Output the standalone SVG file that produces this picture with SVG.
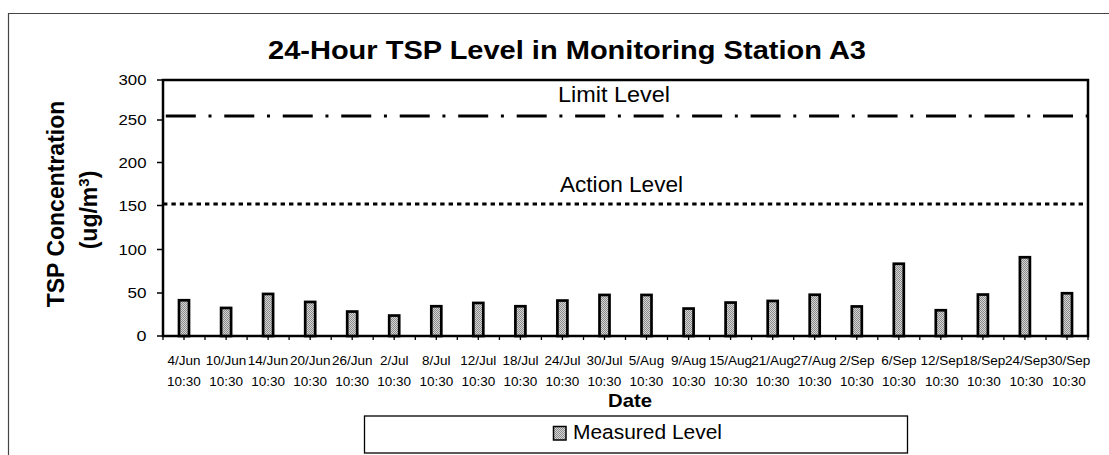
<svg xmlns="http://www.w3.org/2000/svg" width="1109" height="455" viewBox="0 0 1109 455">
<defs>
<pattern id="dither" width="2" height="2" patternUnits="userSpaceOnUse">
<rect width="2" height="2" fill="#d6d6d6"/>
<rect x="0" y="0" width="1" height="1" fill="#8a8a8a"/>
<rect x="1" y="1" width="1" height="1" fill="#8a8a8a"/>
</pattern>
</defs>
<style>
text{font-family:"Liberation Sans",Arial,sans-serif;fill:#000}
.bar{fill:url(#dither);stroke:#000;stroke-width:2.7}
.ylab{font-size:15px;text-anchor:end}
.xlab{font-size:13.5px;text-anchor:middle}
.tick{stroke:#000;stroke-width:1.3}
.lvl{font-size:22px;text-anchor:middle}
</style>
<rect width="1109" height="455" fill="#fff"/>
<g id="chart-border">
<path d="M8.5 455 V13.5 H1109" fill="none" stroke="#444" stroke-width="1.2"/>
</g>
<g id="title">
<text x="268" y="59" font-size="26" font-weight="bold" textLength="598" lengthAdjust="spacingAndGlyphs">24-Hour TSP Level in Monitoring Station A3</text>
</g>
<g id="y-axis-title">
<text transform="translate(63.5,204) rotate(-90)" font-size="23" font-weight="bold" text-anchor="middle">TSP Concentration</text>
<text transform="translate(97,210) rotate(-90)" font-size="23" font-weight="bold" text-anchor="middle">(ug/m<tspan dy="-8" font-size="15">3</tspan><tspan dy="8">)</tspan></text>
</g>
<g id="y-axis">
<text class="ylab" x="146.5" y="85" textLength="28" lengthAdjust="spacingAndGlyphs">300</text>
<text class="ylab" x="146.5" y="125" textLength="28" lengthAdjust="spacingAndGlyphs">250</text>
<text class="ylab" x="146.5" y="167.5" textLength="28" lengthAdjust="spacingAndGlyphs">200</text>
<text class="ylab" x="146.5" y="210.5" textLength="28" lengthAdjust="spacingAndGlyphs">150</text>
<text class="ylab" x="146.5" y="254.5" textLength="28" lengthAdjust="spacingAndGlyphs">100</text>
<text class="ylab" x="146.5" y="298" textLength="19" lengthAdjust="spacingAndGlyphs">50</text>
<text class="ylab" x="146.5" y="341" textLength="10" lengthAdjust="spacingAndGlyphs">0</text>
<path class="tick" d="M157 80H163M157 120H163M157 162.5H163M157 205.5H163M157 249.5H163M157 293H163M157 336H163"/>
</g>
<g id="plot-area">
<rect x="163" y="80" width="925" height="256" fill="none" stroke="#000" stroke-width="2.5"/>
</g>
<g id="x-ticks">
<path class="tick" d="M163 336V340M184 336V340M205 336V340M226.1 336V340M247.1 336V340M268.1 336V340M289.1 336V340M310.2 336V340M331.2 336V340M352.2 336V340M373.2 336V340M394.2 336V340M415.3 336V340M436.3 336V340M457.3 336V340M478.3 336V340M499.4 336V340M520.4 336V340M541.4 336V340M562.4 336V340M583.5 336V340M604.5 336V340M625.5 336V340M646.5 336V340M667.5 336V340M688.6 336V340M709.6 336V340M730.6 336V340M751.6 336V340M772.7 336V340M793.7 336V340M814.7 336V340M835.7 336V340M856.8 336V340M877.8 336V340M898.8 336V340M919.8 336V340M940.8 336V340M961.9 336V340M982.9 336V340M1003.9 336V340M1024.9 336V340M1046 336V340M1067 336V340M1088 336V340"/>
</g>
<g id="connectors">
<line id="limit-line" x1="165.8" y1="116" x2="1090" y2="116" stroke="#000" stroke-width="3" stroke-dasharray="30 12.7 3 12.78"/>
<line id="action-line" x1="163" y1="204" x2="1088" y2="204" stroke="#000" stroke-width="3" stroke-dasharray="4.4 4"/>
</g>
<g id="limit-label"><text class="lvl" x="614" y="102" textLength="112" lengthAdjust="spacingAndGlyphs">Limit Level</text></g>
<g id="action-label"><text class="lvl" x="621.5" y="192" textLength="123" lengthAdjust="spacingAndGlyphs">Action Level</text></g>
<g id="bars">
<g id="bar-4Jun"><rect class="bar" x="179" y="300.25" width="10" height="35.75"/></g>
<g id="bar-10Jun"><rect class="bar" x="221.1" y="307.95" width="10" height="28.05"/></g>
<g id="bar-14Jun"><rect class="bar" x="263.1" y="293.95" width="10" height="42.05"/></g>
<g id="bar-20Jun"><rect class="bar" x="305.2" y="301.95" width="10" height="34.05"/></g>
<g id="bar-26Jun"><rect class="bar" x="347.2" y="311.55" width="10" height="24.45"/></g>
<g id="bar-2Jul"><rect class="bar" x="389.2" y="315.55" width="10" height="20.45"/></g>
<g id="bar-8Jul"><rect class="bar" x="431.3" y="306.25" width="10" height="29.75"/></g>
<g id="bar-12Jul"><rect class="bar" x="473.3" y="302.95" width="10" height="33.05"/></g>
<g id="bar-18Jul"><rect class="bar" x="515.4" y="306.25" width="10" height="29.75"/></g>
<g id="bar-24Jul"><rect class="bar" x="557.4" y="300.55" width="10" height="35.45"/></g>
<g id="bar-30Jul"><rect class="bar" x="599.5" y="294.95" width="10" height="41.05"/></g>
<g id="bar-5Aug"><rect class="bar" x="641.5" y="294.95" width="10" height="41.05"/></g>
<g id="bar-9Aug"><rect class="bar" x="683.6" y="308.55" width="10" height="27.45"/></g>
<g id="bar-15Aug"><rect class="bar" x="725.6" y="302.55" width="10" height="33.45"/></g>
<g id="bar-21Aug"><rect class="bar" x="767.7" y="300.95" width="10" height="35.05"/></g>
<g id="bar-27Aug"><rect class="bar" x="809.7" y="294.75" width="10" height="41.25"/></g>
<g id="bar-2Sep"><rect class="bar" x="851.8" y="306.45" width="10" height="29.55"/></g>
<g id="bar-6Sep"><rect class="bar" x="893.8" y="263.75" width="10" height="72.25"/></g>
<g id="bar-12Sep"><rect class="bar" x="935.8" y="310.25" width="10" height="25.75"/></g>
<g id="bar-18Sep"><rect class="bar" x="977.9" y="294.55" width="10" height="41.45"/></g>
<g id="bar-24Sep"><rect class="bar" x="1019.9" y="257.25" width="10" height="78.75"/></g>
<g id="bar-30Sep"><rect class="bar" x="1062" y="293.25" width="10" height="42.75"/></g>
</g>
<g id="x-labels">
<text class="xlab" y="364.5"><tspan x="184">4/Jun</tspan><tspan x="184" y="385.5">10:30</tspan></text>
<text class="xlab" y="364.5"><tspan x="226.1">10/Jun</tspan><tspan x="226.1" y="385.5">10:30</tspan></text>
<text class="xlab" y="364.5"><tspan x="268.1">14/Jun</tspan><tspan x="268.1" y="385.5">10:30</tspan></text>
<text class="xlab" y="364.5"><tspan x="310.2">20/Jun</tspan><tspan x="310.2" y="385.5">10:30</tspan></text>
<text class="xlab" y="364.5"><tspan x="352.2">26/Jun</tspan><tspan x="352.2" y="385.5">10:30</tspan></text>
<text class="xlab" y="364.5"><tspan x="394.2">2/Jul</tspan><tspan x="394.2" y="385.5">10:30</tspan></text>
<text class="xlab" y="364.5"><tspan x="436.3">8/Jul</tspan><tspan x="436.3" y="385.5">10:30</tspan></text>
<text class="xlab" y="364.5"><tspan x="478.3">12/Jul</tspan><tspan x="478.3" y="385.5">10:30</tspan></text>
<text class="xlab" y="364.5"><tspan x="520.4">18/Jul</tspan><tspan x="520.4" y="385.5">10:30</tspan></text>
<text class="xlab" y="364.5"><tspan x="562.4">24/Jul</tspan><tspan x="562.4" y="385.5">10:30</tspan></text>
<text class="xlab" y="364.5"><tspan x="604.5">30/Jul</tspan><tspan x="604.5" y="385.5">10:30</tspan></text>
<text class="xlab" y="364.5"><tspan x="646.5">5/Aug</tspan><tspan x="646.5" y="385.5">10:30</tspan></text>
<text class="xlab" y="364.5"><tspan x="688.6">9/Aug</tspan><tspan x="688.6" y="385.5">10:30</tspan></text>
<text class="xlab" y="364.5"><tspan x="730.6">15/Aug</tspan><tspan x="730.6" y="385.5">10:30</tspan></text>
<text class="xlab" y="364.5"><tspan x="772.7">21/Aug</tspan><tspan x="772.7" y="385.5">10:30</tspan></text>
<text class="xlab" y="364.5"><tspan x="814.7">27/Aug</tspan><tspan x="814.7" y="385.5">10:30</tspan></text>
<text class="xlab" y="364.5"><tspan x="856.8">2/Sep</tspan><tspan x="856.8" y="385.5">10:30</tspan></text>
<text class="xlab" y="364.5"><tspan x="898.8">6/Sep</tspan><tspan x="898.8" y="385.5">10:30</tspan></text>
<text class="xlab" y="364.5"><tspan x="942">12/Sep</tspan><tspan x="942" y="385.5">10:30</tspan></text>
<text class="xlab" y="364.5"><tspan x="984">18/Sep</tspan><tspan x="984" y="385.5">10:30</tspan></text>
<text class="xlab" y="364.5"><tspan x="1026.5">24/Sep</tspan><tspan x="1026.5" y="385.5">10:30</tspan></text>
<text class="xlab" y="364.5"><tspan x="1069">30/Sep</tspan><tspan x="1069" y="385.5">10:30</tspan></text>
</g>
<g id="x-axis-title">
<text x="630" y="407" font-size="19" font-weight="bold" text-anchor="middle" textLength="44" lengthAdjust="spacingAndGlyphs">Date</text>
</g>
<g id="legend">
<rect x="364.5" y="416" width="543" height="37" fill="#fff" stroke="#000" stroke-width="1.3"/>
<rect x="553.5" y="426.5" width="12.5" height="13.5" fill="url(#dither)" stroke="#000" stroke-width="1.5"/>
<text x="573" y="438.5" font-size="20.5" textLength="149" lengthAdjust="spacingAndGlyphs">Measured Level</text>
</g>
</svg>
